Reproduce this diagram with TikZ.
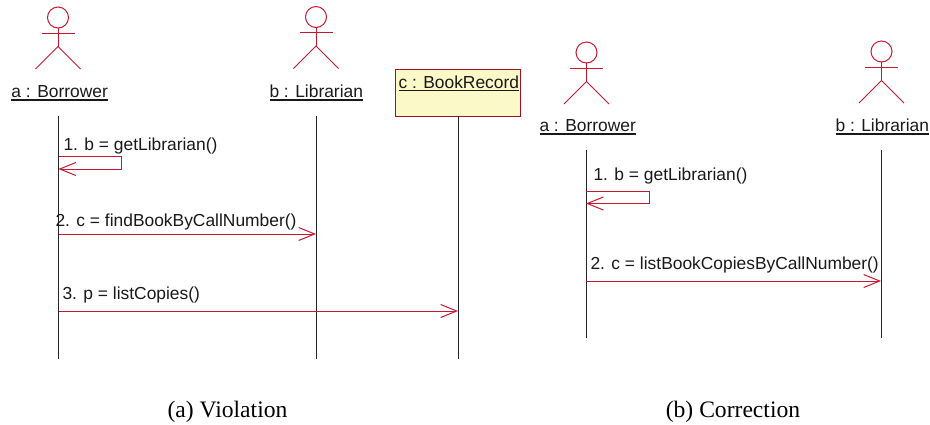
\documentclass[tikz,border=0pt]{standalone}
\usepackage{fontspec}
\setmainfont{Liberation Serif}
\setsansfont{Liberation Sans}
\usetikzlibrary{arrows.meta}
\definecolor{umlred}{RGB}{200,24,48}
\definecolor{umlyellow}{RGB}{251,249,200}
\newcommand{\ulabel}[1]{\setbox0\hbox{#1}\rlap{\rule[-3.4pt]{\wd0}{1.5pt}}\box0}

\begin{document}
\begin{tikzpicture}[x=1pt,y=-1pt,line width=1pt,>={Straight Barb[length=16pt,width=13pt,line width=1pt]},
  lifeline/.style={draw=black!85},
  message/.style={->,draw=umlred},
  label node/.style={anchor=base west,inner sep=0pt,font=\sffamily\fontsize{17.4}{20}\selectfont,text=black!90},
  caption node/.style={anchor=base,inner sep=0pt,font=\rmfamily\fontsize{23.6}{26}\selectfont},
  actor/.pic={
    \draw[umlred] (0,0) circle (10.5);
    \draw[umlred] (0,10.5) -- (0,29);
    \draw[umlred] (-16.5,15.5) -- (16.5,15.5);
    \draw[umlred] (-22.5,51.5) -- (0,29) -- (22.5,51.5);
  }]

  \useasboundingbox (0,0) rectangle (930,424);

  % left diagram
  \pic at (58,17.5) {actor};
  \pic at (316,17) {actor};
  \node[label node] (aleft) at (11,97.5) {\ulabel{a : Borrower}};
  \node[label node] (bleft) at (269,97.5) {\ulabel{b : Librarian}};
  \node[draw=umlred!80!black,fill=umlyellow,minimum width=125pt,minimum height=47pt,inner sep=0pt] (cbox) at (457.5,92.5) {};
  \node[label node] (cleft) at (398,88) {\ulabel{c : BookRecord}};

  \coordinate (atop) at (58.5,116);
  \coordinate (abot) at (58.5,359);
  \coordinate (btop) at (316,116);
  \coordinate (bbot) at (316,359);
  \coordinate (cbot) at (458,359);
  \coordinate (ctop) at (458,116);

  \draw[lifeline] (atop) -- (abot);
  \draw[lifeline] (btop) -- (bbot);
  \draw[lifeline] (ctop) -- (cbot);

  \node[label node] (m1) at (63,150) {1. b = getLibrarian()};
  \node[label node] (m2) at (55,226) {2. c = findBookByCallNumber()};
  \node[label node] (m3) at (62,299) {3. p = listCopies()};

  \coordinate (s1) at (58.5,156);
  \coordinate (s2) at (121,156);
  \coordinate (s3) at (121,169);
  \coordinate (s4) at (58.5,169);
  \coordinate (f1) at (58.5,234);
  \coordinate (f2) at (316,234);
  \coordinate (l1) at (58.5,311);
  \coordinate (l2) at (458,311);

  \draw[message] (s1) -- (s2) -- (s3) -- (s4);
  \draw[message] (f1) -- (f2);
  \draw[message] (l1) -- (l2);

  % right diagram
  \pic at (586.5,52.5) {actor};
  \pic at (881.5,51.5) {actor};
  \node[label node] (aright) at (539,131.5) {\ulabel{a : Borrower}};
  \node[label node] (bright) at (835,131.5) {\ulabel{b : Librarian}};

  \coordinate (artop) at (586,150);
  \coordinate (arbot) at (586,338);
  \coordinate (brtop) at (881,150);
  \coordinate (brbot) at (881,338);

  \draw[lifeline] (artop) -- (arbot);
  \draw[lifeline] (brtop) -- (brbot);

  \node[label node] (r1) at (593,180) {1. b = getLibrarian()};
  \node[label node] (r2) at (590,269) {2. c = listBookCopiesByCallNumber()};

  \coordinate (t1) at (586,191);
  \coordinate (t2) at (649,191);
  \coordinate (t3) at (649,203.5);
  \coordinate (t4) at (586,203.5);
  \coordinate (q1) at (586,281);
  \coordinate (q2) at (881,281);

  \draw[message] (t1) -- (t2) -- (t3) -- (t4);
  \draw[message] (q1) -- (q2);

  \node[caption node] (capa) at (227.5,417) {(a) Violation};
  \node[caption node] (capb) at (733,417) {(b) Correction};
\end{tikzpicture}
\end{document}
